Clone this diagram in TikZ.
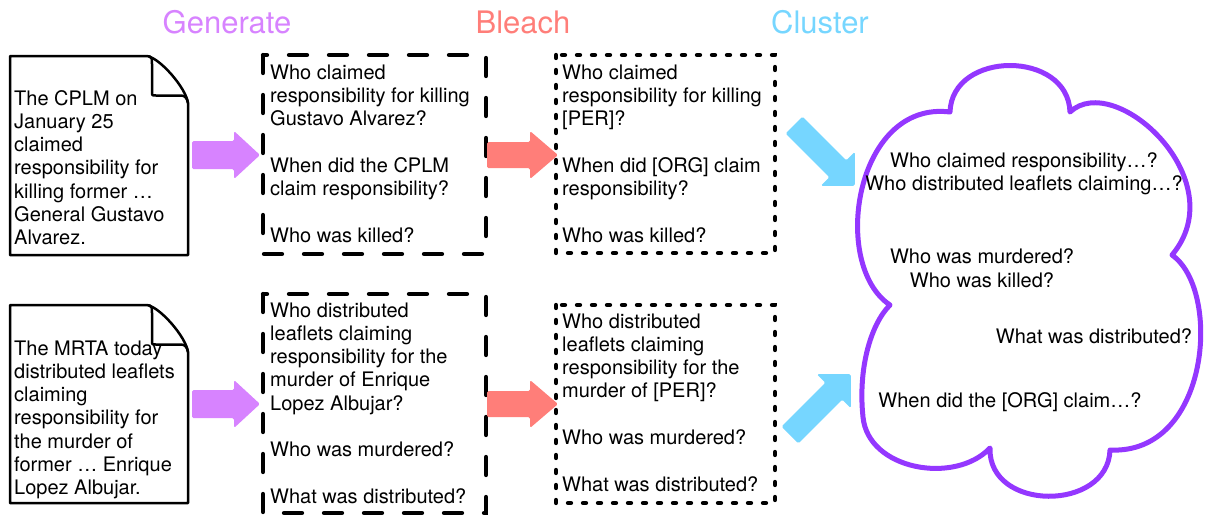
\documentclass[tikz,border=0pt]{standalone}
\usepackage{fontspec}
\setmainfont{TeX Gyre Heros}
\definecolor{lav}{HTML}{D783FF}
\definecolor{salm}{HTML}{FF7E79}
\definecolor{sky}{HTML}{76D6FF}
\definecolor{grape}{HTML}{9437FF}
\tikzset{
  txt/.style={anchor=base west, inner sep=0pt, font=\fontsize{20}{23}\selectfont},
  ctxt/.style={anchor=base, inner sep=0pt, font=\fontsize{20}{23}\selectfont},
  headtxt/.style={anchor=base, inner sep=0pt, font=\fontsize{31}{36}\selectfont},
  docline/.style={line width=2.5pt, line join=round},
  dashbox/.style={line width=4.3pt, line cap=round, dash pattern=on 18pt off 22pt},
  dotbox/.style={line width=4.3pt, line cap=round, dash pattern=on 3pt off 12pt},
  cloudline/.style={grape, line width=5pt, line join=round},
  pics/docpage/.style={code={
    \draw[docline, fill=white] (0,0) -- (137,0) .. controls (150,2) and (176,32) .. (178,47) -- (178,#1) -- (0,#1) -- cycle;
    \draw[docline] (139,0) .. controls (142,2) .. (142,8) -- (142,36) .. controls (142,39.5) .. (146,39.5) -- (171,39.5) .. controls (175,39.5) and (177,42) .. (178,47);
  }},
  pics/blockarrow/.style n args={5}{code={
    \fill[#5, rounded corners=1.5pt] (0,-#2) -- ({#1-#4},-#2) -- ({#1-#4},-#3) -- (#1,0) -- ({#1-#4},#3) -- ({#1-#4},#2) -- (0,#2) -- cycle;
  }}
}
\newcommand\qlines[4]{\foreach \t [count=\i] in {#4}{\node[txt] (#1\i) at (#2,{#3+(\i-1)*23.33}) {\t};}}
\begin{document}
\begin{tikzpicture}[x=1pt,y=-1pt]
\useasboundingbox (0,0) rectangle (1208,515);
% headers
\node[headtxt, text=lav] (hgen) at (227,33) {Generate};
\node[headtxt, text=salm] (hble) at (523,33) {Bleach};
\node[headtxt, text=sky] (hclu) at (820,33) {Cluster};
% documents
\pic at (10,56) {docpage=199};
\pic at (10,305) {docpage=198};
\qlines{dA}{14}{105}{The CPLM on,January 25,claimed,responsibility for,killing former …,General Gustavo,Alvarez.}
\qlines{dB}{14}{355}{The MRTA today,distributed leaflets,claiming,responsibility for,the murder of,former … Enrique,Lopez Albujar.}
% generated questions
\draw[dashbox] (263,55) rectangle (486,254);
\draw[dashbox] (263,294) rectangle (486,513);
\qlines{gA}{270}{79}{Who claimed,responsibility for killing,Gustavo Alvarez?,{},When did the CPLM,claim responsibility?,{},Who was killed?}
\qlines{gB}{270}{317}{Who distributed,leaflets claiming,responsibility for the,murder of Enrique,Lopez Albujar?,{},Who was murdered?,{},What was distributed?}
% bleached questions
\draw[dotbox] (556,55) rectangle (775,253);
\draw[dotbox] (556,305) rectangle (775,503);
\qlines{bA}{562}{79}{Who claimed,responsibility for killing,{[PER]?},{},{When did [ORG] claim},responsibility?,{},Who was killed?}
\qlines{bB}{562}{328}{Who distributed,leaflets claiming,responsibility for the,{murder of [PER]?},{},Who was murdered?,{},What was distributed?}
% arrows
\pic at (192,155) {blockarrow={68}{14}{24}{26}{lav}};
\pic at (192,404) {blockarrow={68}{14}{24}{26}{lav}};
\pic at (487,155) {blockarrow={71}{13}{24}{28}{salm}};
\pic at (487,404) {blockarrow={71}{13}{24}{28}{salm}};
\pic[rotate=-45] at (794,125) {blockarrow={86}{12}{24}{24}{sky}};
\pic[rotate=45] at (790,435) {blockarrow={86}{12}{24}{24}{sky}};
% cloud
\draw[cloudline] (950,112) .. controls (952,50) and (1068,50) .. (1070,112)
  .. controls (1115,70) and (1235,180) .. (1172,255)
  .. controls (1222,290) and (1210,455) .. (1110,450)
  .. controls (1108,512) and (988,512) .. (990,448)
  .. controls (955,485) and (868,470) .. (863,417)
  .. controls (858,370) and (870,325) .. (890,305)
  .. controls (830,265) and (855,100) .. (950,112) -- cycle;
\node[ctxt] (c1) at (1024,167) {Who claimed responsibility…?};
\node[ctxt] (c2) at (1024,190) {Who distributed leaflets claiming…?};
\node[ctxt] (c3) at (982,263) {Who was murdered?};
\node[ctxt] (c4) at (982,287) {Who was killed?};
\node[ctxt] (c5) at (1094,343) {What was distributed?};
\node[ctxt] (c6) at (1010,407) {When did the [ORG] claim…?};
\end{tikzpicture}
\end{document}
